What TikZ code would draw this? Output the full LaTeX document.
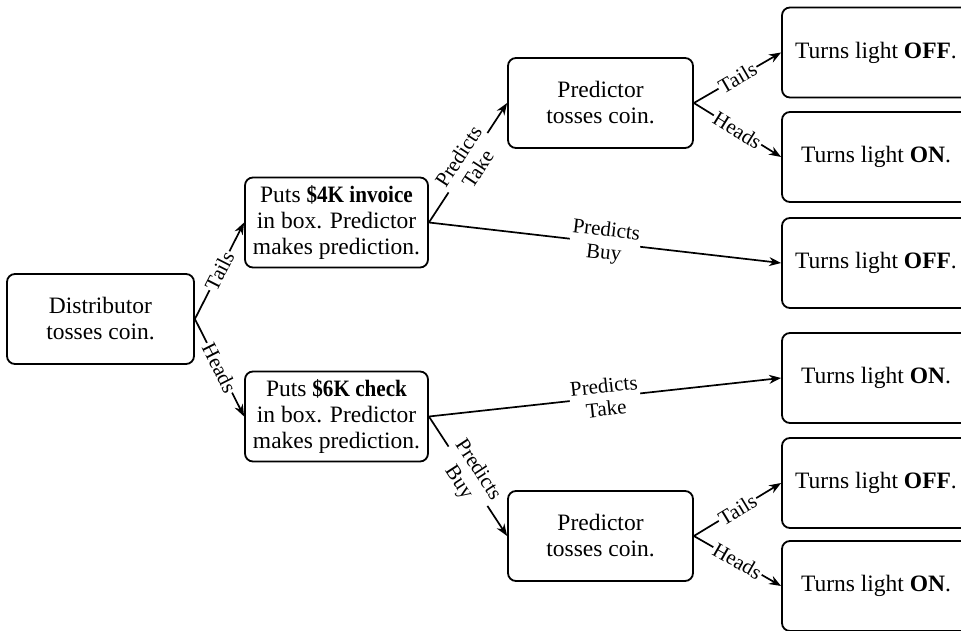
\documentclass[tikz,border=0pt]{standalone}
\usepackage{fontspec}
\usepackage{graphicx}
\setmainfont{Liberation Serif}
\usetikzlibrary{arrows.meta}
\newcommand\bnarrow[1]{\scalebox{0.9}[1]{\textbf{#1}}}
\begin{document}
\begin{tikzpicture}[x=1pt,y=-1pt,
  box/.style={draw, line width=1.8pt, rounded corners=8pt, minimum height=90pt, align=center,
    font=\fontsize{23.5}{26}\selectfont, inner sep=0pt},
  arr/.style={line width=1.7pt, -{Stealth[length=12pt,width=9pt]}},
  lab/.style={midway, sloped, fill=white, inner sep=1.5pt, align=center,
    font=\fontsize{21}{23}\selectfont}]
\clip (0,0) rectangle (961,631);
\fill[white] (0,0) rectangle (961,631);
% nodes
\node[box, minimum width=187pt] (dist) at (100.5,319) {Distributor\\tosses coin.};
\node[box, minimum width=183pt] (inv) at (336.5,222.5) {Puts \bnarrow{\$4K invoice}\\in box. Predictor\\makes prediction.};
\node[box, minimum width=183pt] (chk) at (336.5,416.5) {Puts \bnarrow{\$6K check}\\in box. Predictor\\makes prediction.};
\node[box, minimum width=185pt] (pt) at (600.5,103) {Predictor\\tosses coin.};
\node[box, minimum width=185pt] (pb) at (600.5,536) {Predictor\\tosses coin.};
\node[box, minimum width=188pt] (r1) at (876,52.5) {Turns light \textbf{OFF}.};
\node[box, minimum width=188pt] (r2) at (876,157) {Turns light \textbf{ON}.};
\node[box, minimum width=188pt] (r3) at (876,263) {Turns light \textbf{OFF}.};
\node[box, minimum width=188pt] (r4) at (876,378) {Turns light \textbf{ON}.};
\node[box, minimum width=188pt] (r5) at (876,483) {Turns light \textbf{OFF}.};
\node[box, minimum width=188pt] (r6) at (876,586) {Turns light \textbf{ON}.};
% connectors
\draw[arr] (dist.east) -- node[lab] {Tails} (inv.west);
\draw[arr] (dist.east) -- node[lab] {Heads} (chk.west);
\draw[arr] (inv.east) -- node[lab] {Predicts\\Take} (pt.west);
\draw[arr] (inv.east) -- node[lab] {Predicts\\Buy} (r3.west);
\draw[arr] (chk.east) -- node[lab] {Predicts\\Take} (r4.west);
\draw[arr] (chk.east) -- node[lab] {Predicts\\Buy} (pb.west);
\draw[arr] (pt.east) -- node[lab] {Tails} (r1.west);
\draw[arr] (pt.east) -- node[lab] {Heads} (r2.west);
\draw[arr] (pb.east) -- node[lab] {Tails} (r5.west);
\draw[arr] (pb.east) -- node[lab] {Heads} (r6.west);
\end{tikzpicture}
\end{document}
